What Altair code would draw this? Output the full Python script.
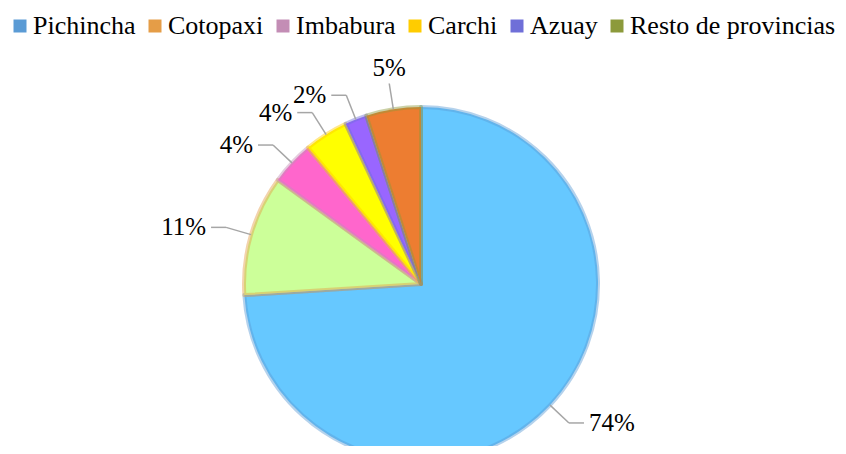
import altair as alt
import pandas as pd

# ---- data ----
provincias = ["Pichincha", "Cotopaxi", "Imbabura", "Carchi", "Azuay", "Resto de provincias"]
porcentajes = [74, 11, 4, 4, 2, 5]
colores_leyenda = ["#5B9BD5", "#E59D47", "#C38DB5", "#FFCC00", "#6F6FD8", "#8C9A3B"]
colores_sector = ["#66C8FF", "#CCFF99", "#FF66CC", "#FFFF00", "#9966FF", "#ED7D31"]

df = pd.DataFrame({
    "provincia": provincias,
    "valor": porcentajes,
    "orden": list(range(len(provincias))),
})

# ---- layout ----
W, H = 830, 438
CX, CY, R = 413, 276, 177
ELBOW = R + 26
HSEG = 15
FONT = "Liberation Serif"

base = alt.Chart(df)

pie = base.mark_arc(radius=R, strokeWidth=4, strokeOpacity=0.45, strokeJoin="round").encode(
    theta=alt.Theta("valor:Q", stack=True),
    order=alt.Order("orden:Q"),
    fill=alt.Fill("provincia:N", scale=alt.Scale(domain=provincias, range=colores_sector), legend=None),
    stroke=alt.Stroke("provincia:N", scale=alt.Scale(domain=provincias, range=colores_leyenda), legend=None),
    x=alt.value(CX),
    y=alt.value(CY),
)

leyenda = base.mark_arc(radius=0).encode(
    theta=alt.Theta("valor:Q", stack=True),
    fill=alt.Fill(
        "provincia:N",
        scale=alt.Scale(domain=provincias, range=colores_leyenda),
        legend=alt.Legend(
            title=None, orient="none", legendX=-1, legendY=5, direction="horizontal",
            symbolType="square", symbolSize=169, symbolStrokeWidth=0,
            labelFont=FONT, labelFontSize=26, labelColor="black",
            labelOffset=0, columnPadding=6, labelLimit=400,
        ),
    ),
    x=alt.value(CX),
    y=alt.value(CY),
)

lab = (
    base.transform_joinaggregate(total="sum(valor)")
    .transform_window(cum="sum(valor)", sort=[alt.SortField("orden")], frame=[None, 0])
    .transform_calculate(ang="2*PI*(datum.cum - datum.valor/2)/datum.total")
    .transform_calculate(s="sin(datum.ang)")
    .transform_calculate(c="cos(datum.ang)")
    .transform_calculate(side="datum.s > 0.2 ? 1 : (datum.s < -0.2 ? -1 : 0)")
    .transform_calculate(px=f"{CX} + {R}*datum.s")
    .transform_calculate(py=f"{CY} - {R}*datum.c")
    .transform_calculate(ex=f"{CX} + {ELBOW}*datum.s")
    .transform_calculate(ey=f"{CY} - {ELBOW}*datum.c")
    .transform_calculate(hx=f"datum.ex + {HSEG}*datum.side")
    .transform_calculate(tx="datum.side == 0 ? datum.ex : datum.hx + 5*datum.side")
    .transform_calculate(ty="datum.side == 0 ? datum.ey - 15 : datum.ey")
    .transform_calculate(label="datum.valor + '%'")
)

def xe(f):
    return alt.X(f"{f}:Q", scale=alt.Scale(domain=[0, W], nice=False, zero=False), axis=None)

def ye(f):
    return alt.Y(f"{f}:Q", scale=alt.Scale(domain=[0, H], nice=False, zero=False, reverse=True), axis=None)

seg1 = lab.mark_rule(color="#A6A6A6", strokeWidth=1.5).encode(
    x=xe("px"), y=ye("py"), x2="ex:Q", y2="ey:Q"
)
seg2 = lab.mark_rule(color="#A6A6A6", strokeWidth=1.5).encode(
    x=xe("ex"), y=ye("ey"), x2="hx:Q", y2="ey:Q"
)

def txt(cond, align):
    return lab.transform_filter(cond).mark_text(
        font=FONT, fontSize=25, color="black", align=align, baseline="middle"
    ).encode(x=xe("tx"), y=ye("ty"), text="label:N")

t_right = txt("datum.side == 1", "left")
t_left = txt("datum.side == -1", "right")
t_top = txt("datum.side == 0", "center")

chart = alt.layer(pie, leyenda, seg1, seg2, t_right, t_left, t_top).resolve_scale(
    fill="independent"
).resolve_legend(fill="independent").properties(
    width=W, height=H, padding=0, autosize=alt.AutoSizeParams(type="none")
).configure_view(stroke=None)

chart.save("out.html", embed_options={"renderer": "svg", "actions": False})
